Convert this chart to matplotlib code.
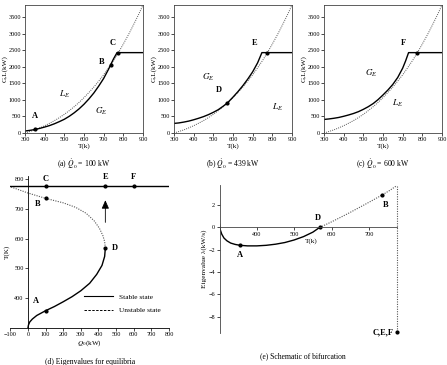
import matplotlib
matplotlib.use("Agg")
import matplotlib.pyplot as plt
from matplotlib.lines import Line2D

plt.rcParams["font.family"] = ["Liberation Serif", "DejaVu Serif"]
plt.rcParams["mathtext.fontset"] = "stix"

W, H = 447, 365

# heat loss curve L_E (same in a, b, c)
T_L = [300, 325, 350, 375, 400, 425, 450, 475, 500, 525, 550, 575, 600,
       625, 650, 675, 700, 725, 750, 775, 800, 825, 850, 875, 900]
L_E = [0, 45, 95, 155, 220, 295, 375, 465, 565, 675, 795, 925, 1070,
       1225, 1390, 1570, 1760, 1970, 2190, 2430, 2690, 2960, 3250, 3550, 3870]

# heat generation curves G_E
T_Ga = [300, 325, 350, 375, 400, 425, 450, 475, 500, 525, 550, 575, 600,
        625, 650, 675, 700, 725, 736, 750, 768, 900]
G_a = [60, 80, 105, 140, 180, 225, 280, 345, 415, 505, 610, 730, 870,
       1030, 1210, 1420, 1650, 1930, 2067, 2240, 2430, 2430]
T_Gb = [300, 325, 350, 375, 400, 425, 450, 475, 500, 525, 550, 568, 575,
        600, 625, 650, 675, 700, 725, 747, 900]
G_b = [290, 305, 330, 360, 400, 445, 495, 555, 625, 705, 810, 892, 930,
       1085, 1250, 1430, 1630, 1850, 2120, 2430, 2430]
T_Gc = [300, 325, 350, 375, 400, 425, 450, 475, 500, 525, 550, 575, 600,
        625, 650, 675, 700, 715, 730, 900]
G_c = [410, 425, 445, 470, 505, 545, 590, 645, 715, 795, 890, 1010, 1150,
       1300, 1470, 1680, 1960, 2180, 2430, 2430]

# equilibrium points
pts_a = {"A": (352, 108), "B": (736, 2067), "C": (772, 2430)}
pts_b = {"D": (568, 892), "E": (774, 2430)}
pts_c = {"F": (774, 2430)}

# (d) equilibrium temperature vs Q0
Q_stable = [0, 3, 10, 25, 50, 100, 150, 200, 250, 300, 350, 390, 420, 435, 439]
T_stable = [300, 310, 320, 330, 342, 358, 372, 388, 405, 425, 450, 480, 510, 540, 568]
Q_unstable = [439, 435, 425, 405, 375, 330, 270, 200, 100, 0, -100]
T_unstable = [568, 590, 610, 635, 660, 685, 705, 720, 735, 753, 774]
Q_high = [-100, 800]
T_high = [775, 775]
d_points = {"A": (100, 358), "B": (100, 735), "D": (439, 568),
            "C": (100, 775), "E": (439, 775), "F": (600, 775)}

# (e) eigenvalue vs T
T_eig_s = [300, 302, 306, 312, 320, 330, 342, 355, 375, 400, 425, 450, 475,
           500, 525, 550, 568]
eig_s = [0.3, -0.2, -0.6, -0.95, -1.2, -1.4, -1.52, -1.6, -1.65, -1.65, -1.6,
         -1.5, -1.35, -1.12, -0.82, -0.42, 0.0]
T_eig_u = [568, 600, 625, 650, 675, 700, 735, 755, 775]
eig_u = [0.0, 0.5, 0.92, 1.35, 1.8, 2.25, 2.9, 3.3, 3.75]
eig_cef = (775, -9.4)


def box(l, r, t, b):
    return [l / W, 1 - b / H, (r - l) / W, (b - t) / H]


fig = plt.figure(figsize=(W / 100, H / 100), dpi=100)

TICK = 4.5
LAB = 5.2
DOT = (0, (1, 1.2))


def gl_panel(rect, Tg, G, pts, lab_pos, caption):
    ax = fig.add_axes(rect)
    ax.plot(T_L, L_E, ls=DOT, color="#555555", lw=0.7)
    ax.plot(Tg, G, color="black", lw=1.0)
    for name, (x, y) in pts.items():
        ax.plot(x, y, "o", color="black", ms=2)
    for txt, (x, y), bold in lab_pos:
        ax.text(x, y, txt, fontsize=6 if bold else 6.5,
                fontweight="bold" if bold else "normal", ha="center", va="center")
    ax.set_xlim(300, 900)
    ax.set_ylim(0, 3870)
    ax.set_xticks(range(300, 901, 100))
    ax.set_yticks(range(0, 3501, 500))
    ax.tick_params(labelsize=TICK, length=2, width=0.5, pad=1)
    for s in ax.spines.values():
        s.set_linewidth(0.6)
        s.set_color("#444444")
    ax.set_xlabel("T(k)", fontsize=LAB, labelpad=0.5)
    ax.set_ylabel("G,L(kW)", fontsize=LAB, labelpad=0.5)
    ax.text(0.5, -0.19, caption, transform=ax.transAxes, ha="center",
            va="top", fontsize=5.5)
    return ax


gl_panel(box(25, 143, 5, 133), T_Ga, G_a, pts_a,
         [("A", (351, 520), True), ("B", (690, 2150), True),
          ("C", (745, 2720), True), ("$L_E$", (500, 1180), False),
          ("$G_E$", (690, 640), False)],
         r"(a) $\dot{Q}_0$ = 100 kW")
gl_panel(box(174, 292, 5, 133), T_Gb, G_b, pts_b,
         [("D", (530, 1300), True), ("E", (712, 2720), True),
          ("$G_E$", (473, 1690), False), ("$L_E$", (829, 760), False)],
         r"(b) $\dot{Q}_0$ = 439 kW")
gl_panel(box(324, 442, 5, 133), T_Gc, G_c, pts_c,
         [("F", (702, 2720), True), ("$G_E$", (539, 1810), False),
          ("$L_E$", (676, 900), False)],
         r"(c) $\dot{Q}_0$ = 600 kW")

# (d)
axd = fig.add_axes(box(10.3, 169, 176, 328))
axd.plot(Q_stable, T_stable, color="black", lw=1.0)
axd.plot(Q_unstable, T_unstable, ls=DOT, color="#555555", lw=0.8)
axd.plot(Q_high, T_high, color="black", lw=1.0)
for name, (q, t) in d_points.items():
    axd.plot(q, t, "o", color="black", ms=2)
axd.annotate("", xy=(439, 738), xytext=(439, 645),
             arrowprops=dict(arrowstyle="-|>,head_length=0.5,head_width=0.22",
                             color="black", lw=0.6))
for txt, (q, t) in {"A": (47, 392), "B": (53, 715), "D": (493, 570),
                    "C": (100, 800), "E": (439, 808), "F": (600, 808)}.items():
    axd.text(q, t, txt, fontsize=6, fontweight="bold", ha="center", va="center")
axd.set_xlim(-100, 800)
axd.set_ylim(300, 810)
axd.spines["left"].set_position(("data", 0))
axd.spines["top"].set_visible(False)
axd.spines["right"].set_visible(False)
for s in ("left", "bottom"):
    axd.spines[s].set_linewidth(0.6)
axd.set_xticks(range(-100, 801, 100))
axd.set_yticks(range(400, 801, 100))
axd.tick_params(labelsize=TICK, length=2, width=0.5, pad=1)
axd.set_xlabel("$Q_0$(kW)", fontsize=LAB, labelpad=0.5)
axd.yaxis.set_label_coords(0.0, 0.5)
axd.set_ylabel("T(K)", fontsize=LAB)
handles = [Line2D([], [], color="black", lw=0.8),
           Line2D([], [], color="black", lw=0.7, ls=(0, (2.5, 1.5)))]
axd.legend(handles, ["Stable state", "Unstable state"], frameon=False,
           fontsize=5.3, handlelength=4, loc="upper left",
           bbox_to_anchor=(0.44, 0.25), labelspacing=1.0, borderpad=0)
axd.text(0.5, -0.2, "(d) Eigenvalues for equilibria", transform=axd.transAxes,
         ha="center", va="top", fontsize=5.5)

# (e)
axe = fig.add_axes(box(219.5, 397.3, 185, 333))
axe.plot(T_eig_s, eig_s, color="black", lw=1.0)
axe.plot(T_eig_u, eig_u, ls=DOT, color="#555555", lw=0.8)
axe.plot([T_eig_u[-1], eig_cef[0]], [eig_u[-1], eig_cef[1]],
         ls=DOT, color="#555555", lw=0.8, clip_on=False)
for t, e in [(355, -1.6), (568, 0.0), (735, 2.9), eig_cef]:
    axe.plot(t, e, "o", color="black", ms=2, clip_on=False)
for txt, (t, e) in {"A": (355, -2.5), "D": (562, 0.85), "B": (745, 2.0)}.items():
    axe.text(t, e, txt, fontsize=6, fontweight="bold", ha="center", va="center")
axe.text(765, -9.4, "C,E,F", fontsize=6, fontweight="bold", ha="right", va="center")
axe.text(545, -1.2, "T(k)", fontsize=LAB, ha="center", va="center")
axe.set_xlim(300, 776)
axe.set_ylim(-9.45, 3.8)
axe.spines["bottom"].set_position(("data", 0))
axe.spines["top"].set_visible(False)
axe.spines["right"].set_visible(False)
for s in ("left", "bottom"):
    axe.spines[s].set_linewidth(0.6)
    axe.spines[s].set_color("#444444")
axe.set_xticks(range(400, 701, 100))
axe.set_yticks(range(-8, 3, 2))
axe.tick_params(labelsize=TICK, length=2, width=0.5, pad=1)
axe.set_ylabel("Eigenvalue λ(kW/s)", fontsize=LAB, labelpad=1)
axe.text(0.47, -0.13, "(e) Schematic of bifurcation", transform=axe.transAxes,
         ha="center", va="top", fontsize=5.5)

fig.savefig("out.png", dpi=100)
